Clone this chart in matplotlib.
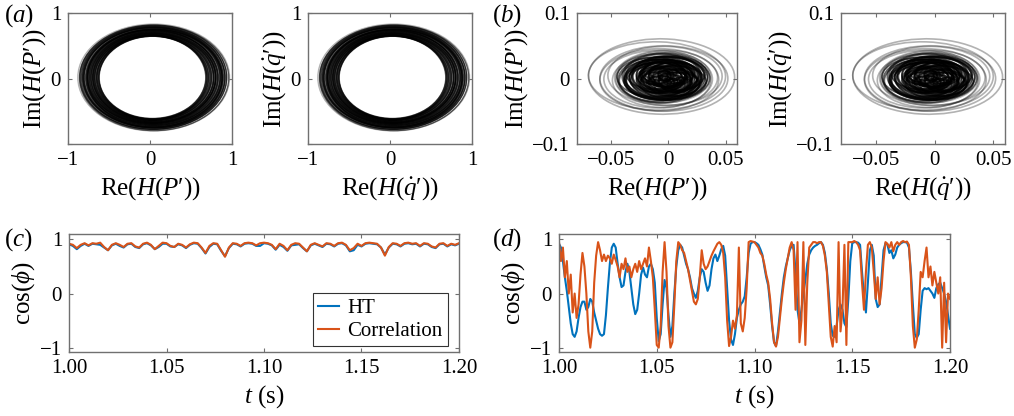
import matplotlib
matplotlib.use("Agg")
import matplotlib.pyplot as plt
from matplotlib.patches import Ellipse
import numpy as np

plt.rcParams["font.family"] = ["Liberation Serif", "DejaVu Serif"]
plt.rcParams["mathtext.fontset"] = "custom"
plt.rcParams["mathtext.rm"] = "Liberation Serif"
plt.rcParams["mathtext.it"] = "Liberation Serif:italic"
plt.rcParams["mathtext.bf"] = "Liberation Serif:bold"

BLUE = "#0072BD"
ORANGE = "#D95319"

# ---- phase portraits, (a): loops read as ellipses (width, height, centre)
a_w = [1.85, 1.82, 1.79, 1.77, 1.76, 1.74, 1.72, 1.71, 1.69, 1.68, 1.66, 1.65,
       1.63, 1.62, 1.61, 1.59, 1.58, 1.56, 1.55, 1.54, 1.52, 1.51, 1.50, 1.48,
       1.47, 1.46, 1.44, 1.43, 1.42, 1.40, 1.39, 1.37, 1.36, 1.35, 1.33, 1.32,
       1.31, 1.30, 1.64, 1.57, 1.49, 1.70]
a_h = [1.63, 1.61, 1.59, 1.58, 1.57, 1.55, 1.54, 1.53, 1.52, 1.51, 1.49, 1.48,
       1.47, 1.46, 1.45, 1.44, 1.43, 1.42, 1.41, 1.40, 1.39, 1.38, 1.37, 1.36,
       1.35, 1.34, 1.33, 1.32, 1.31, 1.30, 1.30, 1.29, 1.28, 1.28, 1.27, 1.27,
       1.26, 1.26, 1.50, 1.43, 1.36, 1.52]
a_cx = [0.045, 0.05, 0.04, 0.05, 0.035, 0.045, 0.05, 0.04, 0.045, 0.035, 0.05, 0.04,
        0.045, 0.04, 0.05, 0.035, 0.045, 0.04, 0.05, 0.035, 0.04, 0.045, 0.03, 0.04,
        0.035, 0.045, 0.03, 0.04, 0.035, 0.03, 0.04, 0.03, 0.035, 0.03, 0.03, 0.035,
        0.03, 0.03, 0.06, 0.02, 0.05, 0.03]
a_cy = [0.015, 0.01, 0.02, 0.015, 0.01, 0.02, 0.015, 0.01, 0.02, 0.015, 0.01, 0.02,
        0.015, 0.01, 0.02, 0.015, 0.01, 0.02, 0.015, 0.01, 0.02, 0.015, 0.01, 0.02,
        0.015, 0.01, 0.02, 0.015, 0.01, 0.02, 0.015, 0.01, 0.02, 0.015, 0.015, 0.01,
        0.02, 0.015, 0.0, 0.03, 0.01, 0.02]

# ---- phase portraits, (b): outer gray loops then the dense core
b_w = [0.128, 0.120, 0.112, 0.104, 0.100, 0.095, 0.090, 0.086, 0.082, 0.078,
       0.075, 0.072, 0.070, 0.068, 0.066, 0.064, 0.062, 0.060, 0.058, 0.056,
       0.054, 0.052, 0.050, 0.049, 0.047, 0.046, 0.044, 0.042, 0.040, 0.039,
       0.037, 0.035, 0.034, 0.032, 0.030, 0.028, 0.027, 0.025, 0.023, 0.022,
       0.020, 0.018, 0.016, 0.014, 0.012, 0.010, 0.058, 0.052, 0.044, 0.036,
       0.030, 0.024, 0.018, 0.066, 0.048, 0.040, 0.026, 0.020, 0.015, 0.012,
       0.072, 0.064, 0.056, 0.050, 0.045, 0.038, 0.033, 0.028, 0.022, 0.017,
       0.068, 0.060, 0.054, 0.046, 0.041, 0.034, 0.029, 0.021, 0.016, 0.011]
b_h = [0.115, 0.104, 0.100, 0.095, 0.090, 0.088, 0.084, 0.082, 0.078, 0.076,
       0.072, 0.070, 0.068, 0.066, 0.064, 0.062, 0.060, 0.058, 0.056, 0.054,
       0.052, 0.050, 0.048, 0.047, 0.045, 0.044, 0.042, 0.040, 0.038, 0.037,
       0.035, 0.034, 0.032, 0.030, 0.028, 0.027, 0.025, 0.024, 0.022, 0.020,
       0.019, 0.017, 0.015, 0.013, 0.011, 0.009, 0.050, 0.046, 0.040, 0.034,
       0.028, 0.022, 0.016, 0.060, 0.042, 0.036, 0.024, 0.018, 0.013, 0.010,
       0.064, 0.058, 0.052, 0.046, 0.041, 0.035, 0.030, 0.026, 0.020, 0.015,
       0.062, 0.054, 0.050, 0.043, 0.038, 0.031, 0.027, 0.019, 0.014, 0.010]
b_cx = [-0.006, -0.010, -0.004, -0.008, -0.003, -0.009, -0.002, -0.006, -0.004, -0.007,
        -0.003, -0.008, 0.001, -0.005, -0.010, 0.000, -0.006, -0.002, -0.009, 0.002,
        -0.004, -0.007, 0.001, -0.010, -0.003, 0.003, -0.006, -0.001, -0.008, 0.002,
        -0.005, 0.004, -0.007, 0.000, -0.003, 0.005, -0.009, -0.002, 0.003, -0.006,
        0.001, -0.004, 0.006, -0.008, 0.002, -0.002, 0.004, -0.011, 0.005, -0.010,
        0.006, -0.007, 0.008, -0.012, -0.001, 0.007, -0.011, 0.009, -0.005, 0.003,
        -0.002, -0.007, 0.003, -0.009, 0.005, -0.004, 0.008, -0.012, 0.010, -0.008,
        -0.005, 0.002, -0.010, 0.006, -0.003, 0.009, -0.007, 0.004, -0.013, 0.011]
b_cy = [0.003, 0.004, 0.000, -0.002, 0.004, -0.001, 0.001, -0.003, 0.002, 0.000,
        0.003, -0.002, 0.001, 0.004, -0.003, 0.002, -0.001, 0.005, -0.004, 0.000,
        0.003, -0.002, 0.004, 0.001, -0.004, 0.002, 0.005, -0.003, 0.000, 0.006,
        -0.002, 0.003, -0.005, 0.004, 0.001, -0.004, 0.006, -0.001, 0.003, -0.006,
        0.005, 0.000, -0.003, 0.004, -0.005, 0.002, -0.006, 0.006, 0.005, -0.004,
        0.007, -0.007, 0.000, 0.002, 0.008, -0.008, 0.003, 0.006, -0.006, 0.001,
        0.001, -0.004, 0.005, 0.002, -0.007, 0.008, -0.002, 0.004, -0.009, 0.009,
        -0.002, 0.006, -0.005, 0.003, 0.007, -0.006, 0.010, -0.010, 0.002, -0.003]
b_ang = [-5, -3, 0, 2, -4, 0, 3, -2, 0, 4,
         -6, 2, 0, -3, 4, 0, -2, 3, 0, -5,
         2, 0, -3, 4, 0, -2, 5, 0, -4, 2,
         0, -3, 3, 0, -2, 4, 0, -3, 2, 0,
         -4, 3, 0, 5, -3, 0, 8, -6, 6, -8,
         4, -3, 5, -4, 7, -5, 3, 6, -7, 0,
         3, -5, 6, 0, -4, 7, -6, 2, 0, 5,
         -3, 4, 0, -6, 5, -2, 3, -7, 0, 4]

# ---- (c): cos(phi), 2 ms steps
t_c = np.arange(101) * 0.002 + 1.0
ht_c = [0.91, 0.88, 0.82, 0.88, 0.92, 0.88, 0.92, 0.91, 0.9, 0.85, 0.8, 0.89,
        0.92, 0.88, 0.85, 0.91, 0.92, 0.86, 0.84, 0.91, 0.93, 0.89, 0.82, 0.86,
        0.92, 0.92, 0.87, 0.86, 0.91, 0.89, 0.84, 0.9, 0.93, 0.92, 0.84, 0.74,
        0.86, 0.92, 0.91, 0.79, 0.69, 0.84, 0.92, 0.91, 0.87, 0.92, 0.93, 0.92,
        0.88, 0.88, 0.93, 0.92, 0.89, 0.81, 0.9, 0.86, 0.79, 0.89, 0.9, 0.91,
        0.84, 0.78, 0.89, 0.92, 0.89, 0.86, 0.92, 0.91, 0.87, 0.92, 0.93, 0.89,
        0.78, 0.8, 0.9, 0.87, 0.92, 0.93, 0.92, 0.91, 0.85, 0.72, 0.85, 0.92,
        0.91, 0.87, 0.92, 0.93, 0.91, 0.92, 0.87, 0.92, 0.91, 0.86, 0.84, 0.91,
        0.92, 0.87, 0.91, 0.89, 0.92]
corr_c = [0.92, 0.9, 0.84, 0.9, 0.93, 0.89, 0.93, 0.92, 0.94, 0.86, 0.8, 0.9,
          0.93, 0.9, 0.86, 0.92, 0.93, 0.87, 0.85, 0.92, 0.94, 0.9, 0.82, 0.88,
          0.94, 0.93, 0.88, 0.86, 0.92, 0.9, 0.85, 0.91, 0.94, 0.93, 0.85, 0.75,
          0.88, 0.93, 0.92, 0.8, 0.68, 0.85, 0.93, 0.92, 0.88, 0.93, 0.94, 0.93,
          0.89, 0.93, 0.94, 0.93, 0.9, 0.82, 0.92, 0.88, 0.8, 0.9, 0.93, 0.92,
          0.85, 0.78, 0.9, 0.93, 0.9, 0.87, 0.93, 0.92, 0.88, 0.93, 0.94, 0.9,
          0.8, 0.84, 0.92, 0.88, 0.93, 0.94, 0.93, 0.92, 0.85, 0.7, 0.86, 0.93,
          0.92, 0.88, 0.93, 0.94, 0.92, 0.93, 0.88, 0.93, 0.92, 0.87, 0.85, 0.92,
          0.93, 0.88, 0.92, 0.9, 0.93]

# ---- (d): cos(phi), 1 ms steps
t_d = np.arange(201) * 0.001 + 1.0
ht_d = [0.92, 0.85, 0.6, 0.3, 0.05, -0.25, -0.55, -0.75, -0.8, -0.7,
        -0.45, -0.25, -0.15, -0.15, -0.3, -0.25, -0.1, -0.15, -0.35, -0.5,
        -0.65, -0.75, -0.78, -0.75, -0.4, 0.1, 0.55, 0.85, 0.92, 0.85,
        0.55, 0.3, 0.12, 0.15, 0.4, 0.55, 0.4, 0.1, -0.2, -0.38,
        -0.3, 0.0, 0.35, 0.48, 0.35, 0.3, 0.5, 0.55, 0.45, 0.2,
        -0.45, -0.88, -0.75, -0.2, 0.25, 0.1, -0.4, -0.8, -0.6, 0.0,
        0.5, 0.8, 0.9, 0.85, 0.7, 0.55, 0.45, 0.3, 0.1, 0.0,
        -0.08, 0.05, 0.3, 0.45, 0.4, 0.2, 0.05, 0.15, 0.45, 0.65,
        0.72, 0.6, 0.7, 0.82, 0.88, 0.7, 0.1, -0.5, -0.85, -0.95,
        -0.75, -0.45, -0.3, -0.2, -0.15, -0.05, 0.3, 0.75, 0.92, 0.95,
        0.95, 0.93, 0.9, 0.82, 0.72, 0.5, 0.3, 0.15, -0.2, -0.6,
        -0.9, -0.97, -0.7, -0.35, 0.0, 0.3, 0.5, 0.65, 0.8, 0.88,
        0.9, 0.4, -0.3, -0.55, -0.3, 0.0, 0.25, 0.55, 0.72, 0.8,
        0.85, 0.88, 0.9, 0.93, 0.95, 0.9, 0.75, 0.45, 0.0, -0.55,
        -0.78, -0.8, -0.6, -0.3, -0.2, -0.3, -0.55, -0.62, -0.1, 0.6,
        0.93, 0.95, 0.95, 0.94, 0.9, 0.4, -0.05, -0.35, 0.2, 0.8,
        0.9, 0.7, -0.1, -0.25, -0.2, 0.3, 0.8, 0.93, 0.9, 0.75,
        0.8, 0.65, 0.72, 0.85, 0.9, 0.93, 0.95, 0.95, 0.94, 0.85,
        0.4, -0.2, -0.75, -0.82, -0.75, -0.3, 0.05, 0.1, 0.08, 0.1,
        0.05, 0.0, -0.08, 0.1, 0.17, 0.2, 0.1, 0.0, -0.15, -0.4,
        -0.65]
corr_d = [0.95, 0.6, 0.85, 0.3, 0.6, 0.0, 0.35, -0.35, 0.0, -0.45,
          -0.2, 0.35, 0.75, 0.5, 0.0, -0.7, -1.0, -0.7, 0.2, 0.7,
          0.95, 0.8, 0.6, 0.72, 0.6, 0.7, 0.65, 0.55, 0.72, 0.62,
          0.5, 0.3, 0.55, 0.45, 0.65, 0.4, 0.5, 0.3, 0.45, 0.55,
          0.4, 0.6, 0.45, 0.55, 0.65, 0.5, 0.85, 0.6, 0.3, -0.3,
          -0.95, -1.0, -0.6, 0.4, 0.95, 0.4, -0.6, -1.0, -0.9, -0.2,
          0.6, 0.95, 0.9, 0.8, 0.75, 0.6, 0.45, 0.25, 0.05, -0.15,
          -0.2, -0.1, 0.3, 0.8, 0.55, 0.45, 0.5, 0.6, 0.7, 0.78,
          0.85, 0.92, 0.95, 0.9, 0.75, 0.3, -0.5, -0.97, -0.8, -0.5,
          -0.65, -0.4, 0.85, -0.55, -0.7, -0.45, 0.1, 0.95, 0.97, 0.96,
          0.95, 0.9, 0.85, 0.75, 0.7, 0.55, 0.35, 0.2, -0.1, -0.55,
          -0.9, -0.98, -0.8, -0.45, -0.1, 0.2, 0.45, 0.65, 0.85, 0.95,
          0.8, -0.3, 0.95, -0.9, -0.5, 0.95, -0.95, 0.2, 0.85, 0.9,
          0.95, 0.95, 0.93, 0.95, 0.95, 0.88, 0.7, 0.4, -0.2, -0.8,
          -0.98, -0.6, -0.9, 0.95, -0.7, -0.3, 0.9, -0.95, 0.95, 0.95,
          0.95, 0.97, 0.95, 0.9, 0.8, 0.2, -0.3, 0.4, 0.9, 0.95,
          0.85, 0.4, -0.1, 0.3, -0.2, 0.1, 0.6, 0.95, 0.92, 0.85,
          0.95, 0.78, 0.9, 0.95, 0.9, 0.95, 0.97, 0.95, 0.96, 0.9,
          0.3, -0.6, -1.0, -0.85, -0.3, 0.4, 0.3, 0.6, 0.85, 0.3,
          0.5, 0.15, 0.4, 0.2, 0.0, 0.3, -1.0, 0.2, -0.9, 0.0,
          -0.1]

W, H = 1014, 416
TICK = 15
LAB = 18


def box(l, t, r, b):
    return [l / W, 1 - b / H, (r - l) / W, (b - t) / H]


def style(ax):
    for s in ax.spines.values():
        s.set_color("#707070")
        s.set_linewidth(1.0)
    ax.tick_params(direction="in", length=3, width=0.8, color="#707070",
                   top=True, right=True, labelsize=TICK, pad=5)


def loops(ax, w, h, cx, cy, ang, big, lw):
    # wide outer loops are drawn lighter than the dense core
    for i in range(len(w)):
        alpha = 0.3 if w[i] > big else 0.6
        ax.add_patch(Ellipse((cx[i], cy[i]), w[i], h[i], angle=ang[i],
                             fill=False, ec="k", lw=lw, alpha=alpha))


fig = plt.figure(figsize=(10.14, 4.16), dpi=100)

# (a)
for l, r, var in [(68, 232, "P\u2032"), (308, 472, "\\dot{q}\u2032")]:
    ax = fig.add_axes(box(l, 13, r, 144))
    loops(ax, a_w, a_h, a_cx, a_cy, [0] * len(a_w), 1.84, 1.0)
    ax.set_xlim(-1, 1)
    ax.set_ylim(-1, 1)
    ax.set_xticks([-1, 0, 1], ["\u22121", "0", "1"])
    ax.set_yticks([-1, 0, 1], ["", "0", "1"])
    ax.set_xlabel("Re$(H(%s))$" % var, fontsize=LAB)
    ax.set_ylabel("Im$(H(%s))$" % var, fontsize=LAB, labelpad=2)
    style(ax)

# (b)
for l, r, var in [(577, 737, "P\u2032"), (841, 1005, "\\dot{q}\u2032")]:
    ax = fig.add_axes(box(l, 13, r, 144))
    loops(ax, b_w, b_h, b_cx, b_cy, b_ang, 0.076, 1.2)
    ax.set_xlim(-0.08, 0.06)
    ax.set_ylim(-0.1, 0.1)
    ax.set_xticks([-0.05, 0, 0.05], ["\u22120.05", "0", "0.05"])
    ax.set_yticks([-0.1, 0, 0.1], ["\u22120.1", "0", "0.1"])
    ax.set_xlabel("Re$(H(%s))$" % var, fontsize=LAB)
    ax.set_ylabel("Im$(H(%s))$" % var, fontsize=LAB, labelpad=2)
    style(ax)

# (c) and (d)
for l, r, t, ht, corr in [(69, 459, t_c, ht_c, corr_c), (559, 950, t_d, ht_d, corr_d)]:
    ax = fig.add_axes(box(l, 234, r, 352))
    ax.plot(t, ht, color=BLUE, lw=1.5, label="HT")
    ax.plot(t, corr, color=ORANGE, lw=1.5, label="Correlation")
    ax.set_xlim(1.0, 1.2)
    ax.set_ylim(-1.08, 1.1)
    ax.set_xticks([1.0, 1.05, 1.1, 1.15, 1.2], ["1.00", "1.05", "1.10", "1.15", "1.20"])
    ax.set_yticks([-1, 0, 1], ["\u22121", "0", "1"])
    ax.set_xlabel(r"$t$ (s)", fontsize=LAB)
    ax.set_ylabel(r"$\cos(\phi)$", fontsize=LAB, labelpad=2)
    style(ax)
    if l < 100:
        leg = ax.legend(loc="lower left", bbox_to_anchor=(0.626, 0.05), fontsize=TICK,
                        fancybox=False, edgecolor="k", handlelength=1.0,
                        handletextpad=0.4, borderpad=0.25, labelspacing=0.15,
                        borderaxespad=0)
        leg.get_frame().set_linewidth(0.8)

for x, y, s in [(4, 16, "$(a)$"), (492, 16, "$(b)$"), (4, 240, "$(c)$"), (492, 240, "$(d)$")]:
    fig.text(x / W, 1 - y / H, s, fontsize=LAB, va="center", ha="left")

fig.savefig("out.png", dpi=100)
